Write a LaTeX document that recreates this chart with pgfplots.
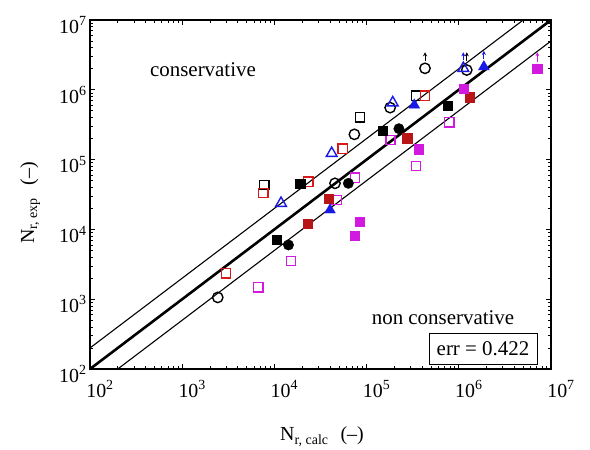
\documentclass[border=0pt]{standalone}
\usepackage{pgfplots}
\pgfplotsset{compat=1.18}
\usetikzlibrary{arrows.meta}
\usepackage{fontspec}
\setmainfont{Liberation Serif}
\definecolor{mag}{rgb}{0.82,0.1,0.88}
\definecolor{myred}{rgb}{0.85,0.1,0.1}
\definecolor{myblue}{rgb}{0.1,0.1,0.9}
\definecolor{thin}{gray}{0.35}
\begin{document}
\begin{tikzpicture}[x=1bp,y=1bp]
\useasboundingbox (0,0) rectangle (590,450);
\begin{axis}[
  at={(90bp,81bp)}, anchor=south west,
  scale only axis, width=461bp, height=349bp,
  xmode=log, ymode=log,
  xmin=1e2, xmax=1e7, ymin=1e2, ymax=1e7,
  xtick={1e2,1e3,1e4,1e5,1e6,1e7},
  ytick={1e2,1e3,1e4,1e5,1e6,1e7},
  xticklabels={10\textsuperscript{2},10\textsuperscript{3},10\textsuperscript{4},10\textsuperscript{5},10\textsuperscript{6},10\textsuperscript{7}},
  yticklabels={10\textsuperscript{2},10\textsuperscript{3},10\textsuperscript{4},10\textsuperscript{5},10\textsuperscript{6},10\textsuperscript{7}},
  tick label style={font=\fontsize{20}{23}\selectfont},
  xticklabel style={yshift=-8bp, xshift=10bp},
  yticklabel style={yshift=-5bp},
  axis line style={line width=1.3bp},
  major tick length=5bp, minor tick length=3bp,
  every tick/.style={black, line width=0.7bp},
  tick align=inside,
]
% reference lines
\addplot[thin, line width=1.1bp] coordinates {(1e2,2e2) (5e6,1e7)};
\addplot[thin, line width=1.1bp] coordinates {(2e2,1e2) (1e7,5e6)};
\addplot[black, line width=2.6bp] coordinates {(1e2,1e2) (1e7,1e7)};
% arrows (run-outs)
\addplot[black, line width=1bp, -{Stealth[length=4bp,width=4bp]}] coordinates {(4.30e5,2.55e6) (4.30e5,3.45e6)};
\addplot[black, line width=1bp, -{Stealth[length=4bp,width=4bp]}] coordinates {(1.22e6,2.55e6) (1.22e6,3.45e6)};
\addplot[myblue, line width=1bp, -{Stealth[length=4bp,width=4bp]}] coordinates {(1.12e6,2.7e6) (1.12e6,3.45e6)};
\addplot[myblue, line width=1bp, -{Stealth[length=4bp,width=4bp]}] coordinates {(1.87e6,2.8e6) (1.87e6,3.6e6)};
\addplot[mag, line width=1bp, -{Stealth[length=4bp,width=4bp]}] coordinates {(7.10e6,2.5e6) (7.10e6,3.45e6)};
% open black circles
\addplot[only marks, mark=o, mark size=5.2bp, black, mark options={line width=1.4bp}] coordinates {
(4.30e5,2.03e6) (1.22e6,1.92e6) (1.80e5,5.55e5) (7.37e4,2.30e5) (4.54e4,4.57e4) (2.43e3,1.06e3)};
% black open squares
\addplot[only marks, mark=square, mark size=4.6bp, black, mark options={line width=1.4bp}] coordinates {
(3.44e5,8.24e5) (8.47e4,4.04e5) (7.76e3,4.33e4)};
% red open squares
\addplot[only marks, mark=square, mark size=4.6bp, myred, mark options={line width=1.4bp}] coordinates {
(4.30e5,8.24e5) (5.51e4,1.43e5) (2.33e4,4.82e4) (7.59e3,3.32e4) (2.99e3,2.35e3)};
% blue open triangles
\addplot[only marks, mark=triangle, mark size=6.2bp, myblue, mark options={line width=1.4bp}] coordinates {
(1.12e6,2.03e6) (1.92e5,6.53e5) (4.18e4,1.23e5) (1.18e4,2.37e4)};
% magenta open squares
\addplot[only marks, mark=square, mark size=4.6bp, mag, mark options={line width=1.4bp}] coordinates {
(7.89e5,3.42e5) (1.82e5,1.91e5) (3.44e5,8.09e4) (7.48e4,5.51e4) (4.74e4,2.64e4) (1.51e4,3.52e3) (6.68e3,1.48e3)};
% black filled circles
\addplot[only marks, mark=*, mark size=5.2bp, black] coordinates {
(6.34e4,4.57e4) (2.24e5,2.77e5) (1.42e4,5.98e3)};
% black filled squares
\addplot[only marks, mark=square*, mark size=4.6bp, black] coordinates {
(7.59e5,5.86e5) (1.50e5,2.59e5) (1.90e4,4.57e4) (1.06e4,7.05e3)};
% red filled squares
\addplot[only marks, mark=square*, mark size=4.6bp, myred!85!black, mark options={draw=myred!85!black}] coordinates {
(1.32e6,7.82e5) (2.76e5,2.02e5) (3.85e4,2.73e4) (2.28e4,1.22e4)};
% blue filled triangles
\addplot[only marks, mark=triangle*, mark size=6.2bp, myblue] coordinates {
(1.87e6,2.14e6) (3.29e5,6.05e5) (4.01e4,1.90e4)};
% magenta filled squares
\addplot[only marks, mark=square*, mark size=4.6bp, mag] coordinates {
(7.10e6,2.03e6) (1.14e6,1.03e6) (3.64e5,1.41e5) (8.47e4,1.29e4) (7.37e4,8.04e3)};
\end{axis}
\node[font=\fontsize{21}{25}\selectfont] at (203,380) {conservative};
\node[font=\fontsize{21}{25}\selectfont] at (443,132) {non conservative};
\node[draw, line width=1bp, font=\fontsize{21}{25}\selectfont, minimum width=108bp, minimum height=31bp, inner sep=2bp] at (483,101) {err = 0.422};
\node[font=\fontsize{20}{23}\selectfont, anchor=base] at (322,9) {N\textsubscript{r, calc}\hspace{0.6em}(--)};
\node[font=\fontsize{20}{23}\selectfont, rotate=90, anchor=base] at (34,247) {N\textsubscript{r, exp}\hspace{0.6em}(--)};
\end{tikzpicture}
\end{document}
